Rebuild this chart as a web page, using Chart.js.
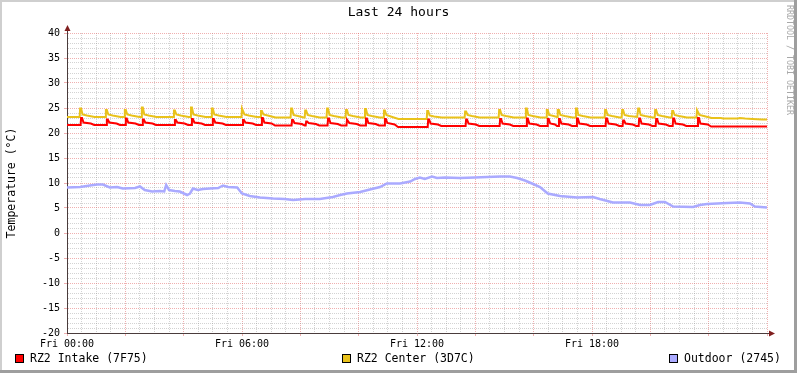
<!DOCTYPE html>
<html>
<head>
<meta charset="utf-8">
<title>Last 24 hours</title>
<script src="https://cdn.jsdelivr.net/npm/chart.js@4.4.1/dist/chart.umd.min.js"></script>
<style>
  html, body { margin: 0; padding: 0; background: #fff; }
  #wrap { width: 797px; height: 373px; }
</style>
</head>
<body>
<div id="wrap"><canvas id="chart-temp" width="797" height="373"></canvas></div>
<script>
// x axis = minutes since Fri 00:00, one day wide
const xTickLabels = ["Fri 00:00", "Fri 06:00", "Fri 12:00", "Fri 18:00"];
const seriesNames = ["RZ2 Intake (7F75)", "RZ2 Center (3D7C)", "Outdoor (2745)"];
const seriesColors = ["#ff0000", "#e9c21b", "#aaaaff"];

// [minute, °C]
const intake = [
  [0,21.6],
  [28,21.6],[29,23.0],[31,23.0],[34,22.1],[49,21.9],[56,21.6],
  [81,21.6],[82,22.7],[84,22.7],[87,22.1],[102,21.9],[109,21.6],
  [120,21.6],[121,22.9],[123,22.9],[126,22.1],[141,21.9],[148,21.6],
  [155,21.6],[156,22.7],[158,22.7],[161,22.1],[176,21.9],[183,21.6],
  [221,21.6],[222,22.6],[224,22.6],[227,22.1],[242,21.9],[249,21.6],
  [256,21.6],[257,22.8],[259,22.8],[262,22.1],[277,21.9],[284,21.6],
  [299,21.6],[300,22.8],[302,22.8],[305,22.1],[320,21.9],[327,21.6],
  [361,21.6],[362,22.6],[364,22.6],[367,22.1],[382,21.9],[389,21.6],
  [400,21.6],[401,23.0],[403,23.0],[406,22.1],[421,21.9],[428,21.5],
  [462,21.5],[463,22.6],[465,22.6],[468,22.0],[483,21.8],[489,21.5],
  [491,21.5],[492,22.3],[494,22.3],[497,22.0],[512,21.8],[519,21.5],
  [536,21.5],[537,22.9],[539,22.9],[542,22.0],[557,21.8],[564,21.5],
  [575,21.5],[576,22.7],[578,22.7],[581,22.0],[596,21.8],[603,21.5],
  [614,21.5],[615,22.9],[617,22.9],[620,22.0],[635,21.8],[642,21.5],
  [653,21.5],[654,22.8],[656,22.8],[659,22.0],[674,21.7],[681,21.2],
  [742,21.2],[743,22.7],[745,22.7],[748,21.9],[763,21.7],[770,21.4],
  [820,21.4],[821,22.7],[823,22.7],[826,21.9],[841,21.7],[848,21.4],
  [890,21.4],[891,22.8],[893,22.8],[896,21.9],[911,21.7],[918,21.4],
  [945,21.4],[946,22.9],[948,22.9],[951,21.9],[966,21.7],[973,21.4],
  [988,21.4],[989,22.8],[991,22.8],[994,21.9],[1004,21.7],[1008,21.4],
  [1011,21.4],[1012,22.8],[1014,22.8],[1017,21.9],[1032,21.7],[1039,21.4],
  [1048,21.4],[1049,22.9],[1051,22.9],[1054,21.9],[1069,21.7],[1076,21.4],
  [1108,21.4],[1109,22.9],[1111,22.9],[1114,21.9],[1129,21.7],[1136,21.4],
  [1143,21.4],[1144,22.5],[1146,22.5],[1149,21.9],[1164,21.7],[1171,21.4],
  [1176,21.4],[1177,22.9],[1179,22.9],[1182,21.9],[1197,21.7],[1204,21.4],
  [1211,21.4],[1212,22.8],[1214,22.8],[1217,21.9],[1232,21.7],[1239,21.4],
  [1246,21.4],[1247,22.9],[1249,22.9],[1252,21.9],[1267,21.7],[1274,21.4],
  [1297,21.4],[1298,23.0],[1300,23.0],[1303,21.9],[1318,21.7],[1325,21.3],
  [1440,21.3]
];

const center = [
  [0,23.2],
  [26,23.2],[27,24.9],[29,24.9],[32,23.7],[41,23.5],[57,23.2],
  [79,23.2],[80,24.6],[82,24.6],[85,23.7],[94,23.5],[110,23.2],
  [118,23.2],[119,24.6],[121,24.6],[124,23.7],[133,23.5],[149,23.2],
  [153,23.2],[154,25.1],[156,25.1],[159,23.7],[168,23.5],[184,23.2],
  [219,23.2],[220,24.5],[222,24.5],[225,23.7],[234,23.5],[250,23.2],
  [254,23.2],[255,25.1],[257,25.1],[260,23.7],[269,23.5],[285,23.2],
  [297,23.2],[298,24.9],[300,24.9],[303,23.7],[312,23.5],[328,23.2],
  [359,23.2],[360,24.9],[362,24.9],[365,23.7],[374,23.5],[390,23.2],
  [398,23.2],[399,24.4],[401,24.4],[404,23.7],[413,23.5],[429,23.1],
  [460,23.1],[461,24.9],[463,24.9],[466,23.6],[475,23.4],[487,23.1],
  [489,23.1],[490,24.5],[492,24.5],[495,23.6],[504,23.4],[520,23.1],
  [534,23.1],[535,24.9],[537,24.9],[540,23.6],[549,23.4],[565,23.1],
  [573,23.1],[574,24.6],[576,24.6],[579,23.6],[588,23.4],[604,23.1],
  [612,23.1],[613,24.8],[615,24.8],[618,23.6],[627,23.4],[643,23.1],
  [651,23.1],[652,24.5],[654,24.5],[657,23.6],[666,23.3],[682,22.8],
  [740,22.8],[741,24.4],[743,24.4],[746,23.5],[755,23.3],[771,23.1],
  [818,23.1],[819,24.3],[821,24.3],[824,23.6],[833,23.4],[849,23.1],
  [888,23.1],[889,24.6],[891,24.6],[894,23.6],[903,23.4],[919,23.1],
  [943,23.1],[944,24.9],[946,24.9],[949,23.6],[958,23.4],[974,23.1],
  [986,23.1],[987,24.6],[989,24.6],[992,23.6],[1001,23.4],[1008,23.2],
  [1009,23.2],[1010,24.6],[1012,24.6],[1015,23.6],[1024,23.4],[1040,23.1],
  [1046,23.1],[1047,24.9],[1049,24.9],[1052,23.6],[1061,23.4],[1077,23.1],
  [1106,23.1],[1107,24.6],[1109,24.6],[1112,23.6],[1121,23.4],[1137,23.1],
  [1141,23.1],[1142,24.6],[1144,24.6],[1147,23.6],[1156,23.4],[1173,23.2],
  [1174,23.2],[1175,24.9],[1177,24.9],[1180,23.6],[1189,23.4],[1205,23.1],
  [1209,23.1],[1210,24.6],[1212,24.6],[1215,23.6],[1224,23.4],[1240,23.1],
  [1244,23.1],[1245,24.4],[1247,24.4],[1250,23.6],[1259,23.4],[1275,23.1],
  [1295,23.1],[1296,24.6],[1298,24.6],[1301,23.6],[1310,23.4],[1326,23.0],
  [1345,23.0],[1350,22.9],[1380,22.9],[1384,23.0],[1395,22.9],
  [1410,22.8],[1430,22.7],[1440,22.7]
];

const outdoor = [
  [0,9.1],[27,9.2],[47,9.5],[62,9.7],[74,9.7],[88,9.1],[103,9.2],[115,8.9],
  [140,9.0],[150,9.3],[160,8.6],[175,8.3],[191,8.4],[200,8.3],[204,9.6],[210,8.6],
  [222,8.4],[232,8.3],[247,7.6],[253,7.9],[259,8.9],[269,8.6],[280,8.8],[294,8.9],
  [311,9.0],[321,9.5],[331,9.2],[350,9.1],[360,7.9],[376,7.4],[397,7.1],[424,6.9],
  [448,6.8],[465,6.6],[490,6.8],[520,6.8],[547,7.2],[562,7.6],[576,7.9],[603,8.2],
  [623,8.7],[644,9.2],[658,9.9],[685,9.9],[706,10.3],[716,10.8],[726,11.1],[736,10.8],
  [751,11.3],[761,11.0],[778,11.1],[808,11.0],[839,11.1],[864,11.2],[891,11.3],[911,11.3],
  [926,11.0],[942,10.5],[959,9.8],[973,9.2],[989,7.9],[1014,7.4],[1049,7.1],[1082,7.2],
  [1096,6.8],[1123,6.1],[1158,6.1],[1179,5.6],[1199,5.6],[1216,6.2],[1230,6.2],[1247,5.3],
  [1288,5.2],[1302,5.6],[1317,5.8],[1358,6.0],[1384,6.1],[1405,5.9],[1415,5.3],[1440,5.1]
];

const gridMinor = "rgba(140, 140, 140, 0.38)";
const gridMajor = "rgba(222, 79, 79, 0.45)";
const axisColor = "#4a3c3c";
const arrowColor = "#801f1f";

function toXY(rows) {
  return rows.map(r => ({ x: r[0], y: r[1] }));
}

// arrows, legend, watermark and frame like rrdtool draws them
const rrdDecor = {
  id: "rrdDecor",
  afterDraw(chart) {
    const { ctx, chartArea: a, width, height } = chart;
    const ax = Math.round(a.left) + 0.5;
    const ay = Math.round(a.bottom) + 0.5;
    ctx.save();

    ctx.strokeStyle = axisColor;
    ctx.lineWidth = 1;
    ctx.beginPath();
    ctx.moveTo(ax, a.top);
    ctx.lineTo(ax, a.top - 4);
    ctx.moveTo(a.right, ay);
    ctx.lineTo(a.right + 4, ay);
    ctx.stroke();

    ctx.fillStyle = arrowColor;
    ctx.beginPath();
    ctx.moveTo(ax, a.top - 8);
    ctx.lineTo(ax - 3, a.top - 2);
    ctx.lineTo(ax + 3, a.top - 2);
    ctx.closePath();
    ctx.fill();
    ctx.beginPath();
    ctx.moveTo(a.right + 8, ay);
    ctx.lineTo(a.right + 2, ay - 3);
    ctx.lineTo(a.right + 2, ay + 3);
    ctx.closePath();
    ctx.fill();

    // legend row
    const legendX = [15, 342, 669];
    ctx.font = "11.5px 'DejaVu Sans Mono', monospace";
    ctx.textBaseline = "middle";
    ctx.textAlign = "left";
    chart.data.datasets.forEach((ds, i) => {
      const x = legendX[i];
      ctx.fillStyle = ds.borderColor;
      ctx.fillRect(x, 354, 9, 9);
      ctx.strokeStyle = "#000";
      ctx.lineWidth = 1;
      ctx.strokeRect(x + 0.5, 354.5, 8, 8);
      ctx.fillStyle = "#000";
      ctx.fillText(ds.label, x + 15, 359);
    });

    // vertical watermark
    ctx.save();
    ctx.translate(789, 5);
    ctx.rotate(Math.PI / 2);
    ctx.font = "8.3px 'DejaVu Sans Mono', monospace";
    ctx.fillStyle = "#a8a8a8";
    ctx.textBaseline = "middle";
    ctx.fillText("RRDTOOL / TOBI OETIKER", 0, 0);
    ctx.restore();

    // frame
    ctx.fillStyle = "#cfcfcf";
    ctx.fillRect(0, 0, width, 2);
    ctx.fillRect(0, 0, 2, height);
    ctx.fillStyle = "#9e9e9e";
    ctx.fillRect(width - 3, 0, 3, height);
    ctx.fillRect(0, height - 3, width, 3);
    ctx.restore();
  }
};

Chart.defaults.font.family = "'DejaVu Sans Mono', monospace";
Chart.defaults.color = "#000";

const ctx = document.getElementById("chart-temp");
new Chart(ctx, {
  type: "line",
  data: {
    datasets: [
      { label: seriesNames[0], data: toXY(intake), borderColor: seriesColors[0], backgroundColor: seriesColors[0], borderWidth: 2, pointRadius: 0, tension: 0, fill: false },
      { label: seriesNames[1], data: toXY(center), borderColor: seriesColors[1], backgroundColor: seriesColors[1], borderWidth: 2, pointRadius: 0, tension: 0, fill: false },
      { label: seriesNames[2], data: toXY(outdoor), borderColor: seriesColors[2], backgroundColor: seriesColors[2], borderWidth: 2.5, pointRadius: 0, tension: 0, fill: false },
    ],
  },
  options: {
    responsive: false,
    animation: false,
    events: [],
    devicePixelRatio: 1,
    layout: { padding: 0 },
    scales: {
      x: {
        type: "linear",
        min: 0,
        max: 1440,
        ticks: {
          stepSize: 30,
          autoSkip: false,
          maxRotation: 0,
          padding: 2,
          font: { size: 10 },
          callback: v => (v % 360 === 0 && xTickLabels[v / 360]) ? xTickLabels[v / 360] : "",
        },
        grid: {
          lineWidth: 1,
          tickLength: 3,
          color: c => (c.tick && c.tick.value % 120 === 0) ? gridMajor : gridMinor,
          tickColor: c => (c.tick && c.tick.value % 120 === 0) ? gridMajor : "rgba(0,0,0,0)",
        },
        border: { color: axisColor, width: 1, dash: [1, 1] },
        afterFit: s => { s.height = 40; },
      },
      y: {
        min: -20,
        max: 40,
        ticks: {
          stepSize: 1,
          autoSkip: false,
          padding: 4,
          font: { size: 10 },
          callback: v => v % 5 === 0 ? String(v) : "",
        },
        grid: {
          lineWidth: 1,
          tickLength: 3,
          color: c => (c.tick && c.tick.value % 5 === 0) ? gridMajor : gridMinor,
          tickColor: c => (c.tick && c.tick.value % 5 === 0) ? gridMajor : "rgba(0,0,0,0)",
        },
        border: { color: axisColor, width: 1, dash: [1, 1] },
        title: {
          display: true,
          text: "Temperature (°C)",
          color: "#000",
          font: { size: 11.5 },
          padding: { top: 5, bottom: 0 },
        },
        afterFit: s => { s.width = 67; },
      },
      yRight: {
        position: "right",
        display: true,
        ticks: { display: false },
        grid: { display: false },
        border: { display: false },
        afterFit: s => { s.width = 30; },
      },
    },
    plugins: {
      legend: { display: false },
      tooltip: { enabled: false },
      title: {
        display: true,
        text: "Last 24 hours",
        color: "#000",
        font: { size: 13, weight: "normal" },
        padding: { top: 5, bottom: 12.4 },
      },
    },
  },
  plugins: [rrdDecor],
});
</script>
</body>
</html>
